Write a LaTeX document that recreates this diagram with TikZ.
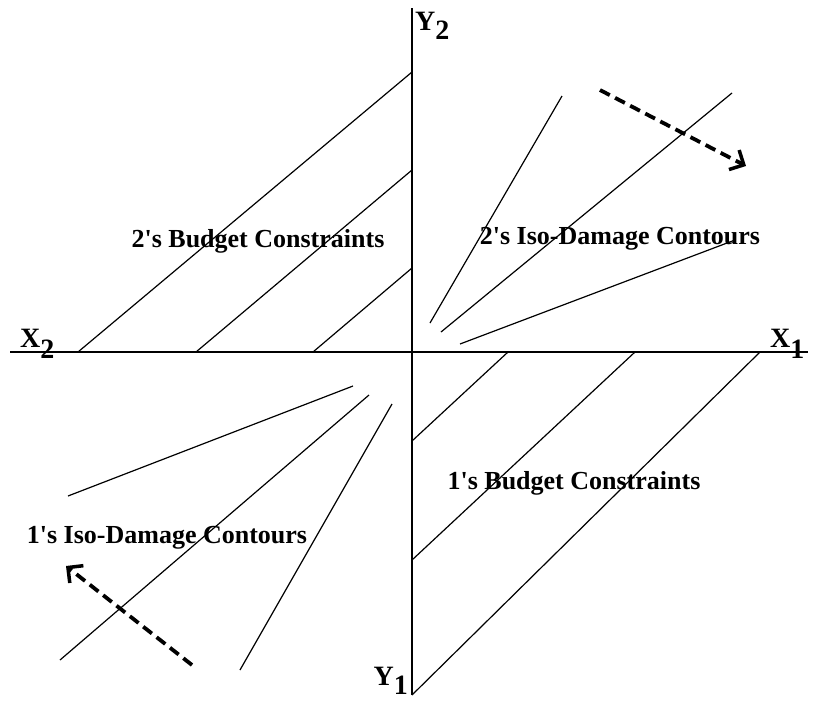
\documentclass[tikz,border=0pt]{standalone}
\usepackage{fontspec}
\setmainfont{Liberation Serif}
\usetikzlibrary{arrows.meta}
\newcommand{\apo}{\textquotesingle}
\begin{document}
\begin{tikzpicture}[x=1pt,y=-1pt,
  axis/.style={line width=1.3pt},
  curve/.style={line width=1.2pt},
  movearrow/.style={line width=3.8pt, dash pattern=on 11pt off 6pt, -{Straight Barb[length=11pt,width=22pt,line width=3.5pt]}},
  lbl/.style={font=\fontsize{26}{28}\selectfont\bfseries, inner sep=0pt},
  axlbl/.style={font=\fontsize{28}{30}\selectfont\bfseries, inner sep=0pt}
]
\useasboundingbox (0,0) rectangle (817,702);
% axes
\coordinate (ytop) at (412,8);
\coordinate (ybot) at (412,695);
\coordinate (xl) at (10,352);
\coordinate (xr) at (808,352);
\draw[axis] (ytop) -- (ybot);
\draw[axis] (xl) -- (xr);
% 2's budget constraints
\coordinate (b2a1) at (78,352);  \coordinate (b2a2) at (412,72);
\coordinate (b2b1) at (196,352); \coordinate (b2b2) at (412,170);
\coordinate (b2c1) at (313,352); \coordinate (b2c2) at (412,268);
\draw[curve] (b2a1) -- (b2a2);
\draw[curve] (b2b1) -- (b2b2);
\draw[curve] (b2c1) -- (b2c2);
% 1's budget constraints
\coordinate (b1a1) at (508,352); \coordinate (b1a2) at (412,441);
\coordinate (b1b1) at (635,352); \coordinate (b1b2) at (412,560);
\coordinate (b1c1) at (760,352); \coordinate (b1c2) at (412,695);
\draw[curve] (b1a1) -- (b1a2);
\draw[curve] (b1b1) -- (b1b2);
\draw[curve] (b1c1) -- (b1c2);
% 2's iso-damage contours
\coordinate (i2a1) at (430,323); \coordinate (i2a2) at (562,96);
\coordinate (i2b1) at (441,332); \coordinate (i2b2) at (732,93);
\coordinate (i2c1) at (460,344); \coordinate (i2c2) at (735,240);
\draw[curve] (i2a1) -- (i2a2);
\draw[curve] (i2b1) -- (i2b2);
\draw[curve] (i2c1) -- (i2c2);
% 1's iso-damage contours
\coordinate (i1a1) at (353,386); \coordinate (i1a2) at (68,496);
\coordinate (i1b1) at (369,395); \coordinate (i1b2) at (60,660);
\coordinate (i1c1) at (392,404); \coordinate (i1c2) at (240,670);
\draw[curve] (i1a1) -- (i1a2);
\draw[curve] (i1b1) -- (i1b2);
\draw[curve] (i1c1) -- (i1c2);
% movement arrows
\coordinate (m2s) at (600,90);  \coordinate (m2e) at (746,166);
\coordinate (m1s) at (192,665); \coordinate (m1e) at (66,566);
\draw[movearrow] (m2s) -- (m2e);
\draw[movearrow] (m1s) -- (m1e);
% labels
\node[lbl] (t2b) at (258,241) {2\apo s Budget Constraints};
\node[lbl] (t2i) at (620,239) {2\apo s Iso-Damage Contours};
\node[lbl] (t1b) at (574,483) {1\apo s Budget Constraints};
\node[lbl] (t1i) at (167,538) {1\apo s Iso-Damage Contours};
% axis labels
\node[axlbl, anchor=west] (ly2) at (415,26) {Y\raisebox{-0.3em}{2}};
\node[axlbl, anchor=west] (lx2) at (20,344) {X\raisebox{-0.4em}{2}};
\node[axlbl, anchor=west] (lx1) at (770,344) {X\raisebox{-0.4em}{1}};
\node[axlbl, anchor=east] (ly1) at (408,681) {Y\raisebox{-0.3em}{1}};
\end{tikzpicture}
\end{document}
